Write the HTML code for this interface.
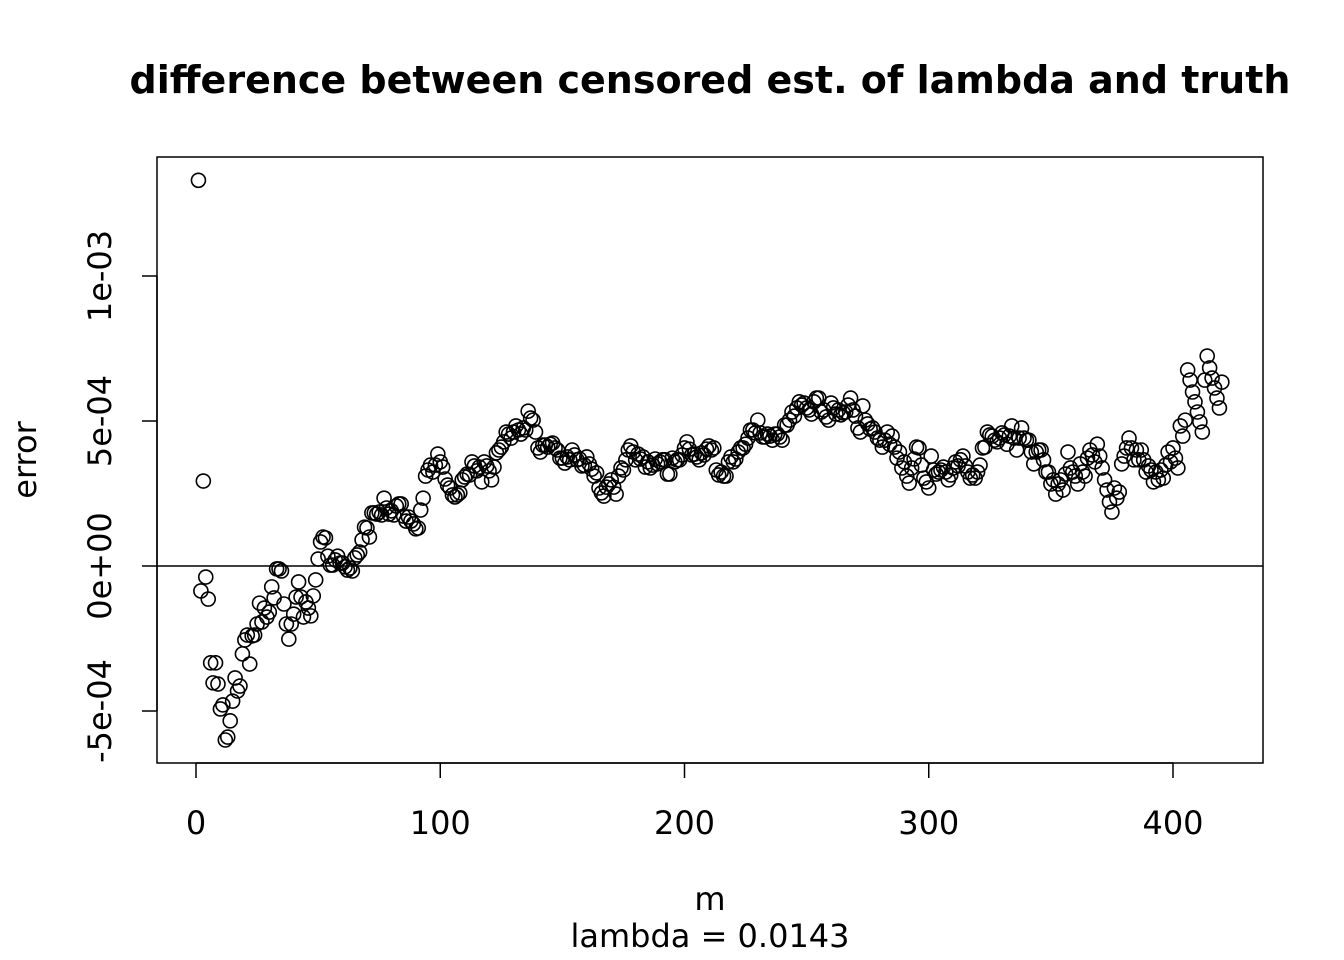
<!DOCTYPE html>
<html><head><meta charset="utf-8">
<style>
html,body{margin:0;padding:0;background:#fff;}
svg{display:block;font-family:"DejaVu Sans","Liberation Sans",sans-serif;}
</style></head>
<body>
<svg id="chart" width="1344" height="960" viewBox="0 0 1344 960" xmlns="http://www.w3.org/2000/svg">
<rect width="1344" height="960" fill="#fff"/>
<text x="710" y="93" text-anchor="middle" font-size="38" font-weight="bold">difference between censored est. of lambda and truth</text>
<rect x="157" y="157" width="1106" height="606" fill="none" stroke="#000" stroke-width="1.5"/>
<g id="xaxis"></g>
<g id="yaxis"></g>
<g id="refline"></g>
<g id="points"></g>
<text x="710" y="910" text-anchor="middle" font-size="32">m</text>
<text x="710" y="947" text-anchor="middle" font-size="32">lambda = 0.0143</text>
<text transform="translate(36,460) rotate(-90)" text-anchor="middle" font-size="32">error</text>
</svg>
<script>
const xTicks = [0, 100, 200, 300, 400];
const yTicks = [-5e-4, 0, 5e-4, 1e-3];
const yTickLabels = ["-5e-04", "0e+00", "5e-04", "1e-03"];
// error values in units of 1e-4, for m = 1..420
const errorValues = [13.3,-0.86,2.93,-0.38,-1.14,-3.34,-4.03,-3.34,-4.07,-4.93,
-4.79,-6.0,-5.9,-5.34,-4.66,-3.86,-4.31,-4.14,-3.03,-2.55,
-2.38,-3.38,-2.41,-2.38,-2.0,-1.28,-1.93,-1.45,-1.76,-1.59,
-0.72,-1.10,-0.1,-0.1,-0.17,-1.31,-2.0,-2.52,-2.0,-1.66,
-1.07,-0.55,-1.07,-1.76,-1.24,-1.45,-1.72,-1.03,-0.48,0.24,
0.83,1.0,0.97,0.34,0.03,0.03,0.21,0.34,0.1,0.1,
-0.03,-0.14,-0.07,-0.17,0.28,0.38,0.48,0.9,1.34,1.31,
1.0,1.83,1.83,1.79,1.86,1.76,2.34,2.0,1.79,1.9,
1.76,2.07,2.14,2.14,1.72,1.55,1.69,1.55,1.45,1.28,
1.31,1.93,2.34,3.1,3.31,3.48,3.24,3.48,3.86,3.59,
3.41,3.0,2.79,2.69,2.45,2.38,2.45,2.52,2.97,3.07,
3.17,3.14,3.59,3.45,3.28,3.41,2.9,3.59,3.45,3.28,
2.97,3.41,3.9,4.0,4.1,4.28,4.62,4.55,4.41,4.62,
4.83,4.69,4.55,4.76,4.69,5.34,5.1,5.03,4.62,4.07,
3.93,4.17,4.17,4.1,4.2,4.24,4.07,4.0,3.72,3.72,
3.55,3.76,3.66,4.0,3.83,3.66,3.69,3.45,3.48,3.76,
3.52,3.34,3.1,3.21,2.69,2.52,2.41,2.72,2.83,2.97,
2.72,2.48,3.1,3.38,3.31,3.66,4.0,4.14,3.93,3.66,
3.86,3.69,3.76,3.41,3.59,3.38,3.48,3.69,3.52,3.59,
3.66,3.66,3.17,3.17,3.72,3.59,3.66,3.66,3.83,4.07,
4.28,4.03,3.83,3.86,3.76,3.66,3.9,3.83,4.03,4.14,
4.0,4.07,3.31,3.14,3.24,3.1,3.1,3.59,3.76,3.59,
3.69,3.93,4.07,4.07,4.2,4.41,4.69,4.69,4.59,5.03,
4.59,4.45,4.45,4.55,4.48,4.34,4.55,4.55,4.45,4.34,
4.86,4.86,5.03,5.31,5.17,5.45,5.66,5.55,5.62,5.45,
5.38,5.24,5.66,5.79,5.79,5.31,5.38,5.14,5.03,5.62,
5.45,5.24,5.38,5.21,5.28,5.31,5.55,5.79,5.38,5.17,
4.76,4.62,5.52,5.03,4.9,4.72,4.76,4.62,4.41,4.34,
4.1,4.34,4.62,4.2,4.48,4.1,3.72,3.93,3.38,3.59,
3.1,2.86,3.38,3.69,4.1,4.07,3.48,3.03,2.9,2.69,
3.79,3.31,3.17,3.24,3.31,3.41,3.24,2.97,3.14,3.38,
3.59,3.45,3.66,3.79,3.45,3.24,3.03,3.14,3.03,3.24,
3.48,4.07,4.1,4.62,4.52,4.48,4.34,4.28,4.41,4.59,
4.52,4.2,4.48,4.83,4.41,4.0,4.41,4.76,4.41,4.34,
4.34,3.93,3.52,3.93,4.0,4.0,3.66,3.24,3.24,2.83,
2.97,2.48,2.83,2.97,2.62,3.17,3.93,3.38,3.24,3.1,
2.83,3.52,3.24,3.1,3.72,4.0,3.83,3.59,4.2,3.79,
3.38,2.97,2.62,2.21,1.86,2.69,2.34,2.55,3.52,3.79,
4.07,4.41,4.07,3.66,4.0,3.66,4.0,3.66,3.24,3.45,
3.31,2.9,3.24,2.97,3.31,3.03,3.48,3.93,3.59,4.07,
3.72,3.38,4.83,4.48,5.03,6.76,6.41,6.0,5.66,5.31,
4.97,4.62,6.41,7.24,6.83,6.48,6.14,5.79,5.45,6.34];

const NS = "http://www.w3.org/2000/svg";
const X0 = 196, XS = 977/400;
const Y0 = 566, YS = 145/5e-4;
function xScale(v){ return X0 + v*XS; }
function yScale(v){ return Y0 - v*YS; }
function mk(tag, attrs, parent){
  const el = document.createElementNS(NS, tag);
  for (const k in attrs) el.setAttribute(k, attrs[k]);
  parent.appendChild(el);
  return el;
}
const xg = document.getElementById('xaxis');
mk('line',{x1:xScale(0),x2:xScale(400),y1:763,y2:763,stroke:'#000','stroke-width':1.5},xg);
xTicks.forEach(t=>{
  const tk = mk('line',{x1:xScale(t),x2:xScale(t),y1:763,y2:778,stroke:'#000','stroke-width':1.5},xg);
  
  
  const lb = mk('text',{x:xScale(t),y:834,'text-anchor':'middle','font-size':32},xg);
  lb.textContent = String(t);
  
  
});
const yg = document.getElementById('yaxis');
mk('line',{x1:157,x2:157,y1:yScale(-5e-4),y2:yScale(1e-3),stroke:'#000','stroke-width':1.5},yg);
yTicks.forEach((t,i)=>{
  const y = yScale(t);
  const tk = mk('line',{x1:142,x2:157,y1:y,y2:y,stroke:'#000','stroke-width':1.5},yg);
  
  
  const lb = mk('text',{transform:`translate(111,${y}) rotate(-90)`,'text-anchor':'middle','font-size':32},yg);
  lb.textContent = yTickLabels[i];
  
  
});
const rg = document.getElementById('refline');
mk('line',{x1:157,x2:1263,y1:yScale(0),y2:yScale(0),stroke:'#000','stroke-width':1.5},rg);
const pg = document.getElementById('points');
errorValues.forEach((v,i)=>{
  const c = mk('circle',{cx:xScale(i+1),cy:yScale(v*1e-4),r:7,fill:'none',stroke:'#000','stroke-width':1.6},pg);
  
  
});
</script>
</body></html>
